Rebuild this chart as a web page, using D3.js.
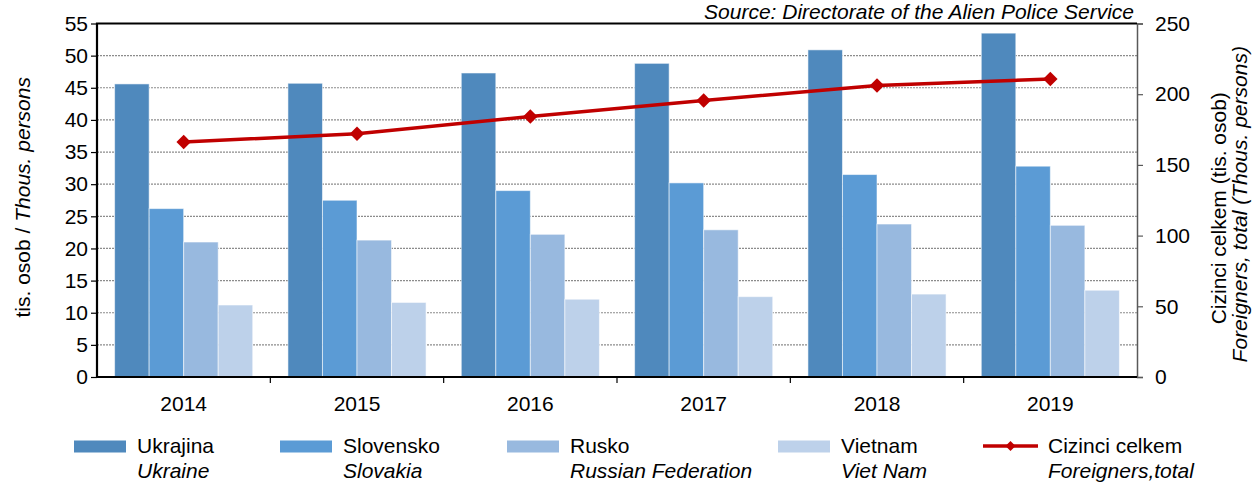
<!DOCTYPE html>
<html>
<head>
<meta charset="utf-8">
<script src="https://cdn.jsdelivr.net/npm/d3@7"></script>
<style>
  body { margin: 0; background: #fff; }
  svg { display: block; font-family: "Liberation Sans", Arial, sans-serif; }
  .tick text { font-size: 21px; fill: #000; }
</style>
</head>
<body>
<div id="chart"></div>
<script>
// Foreigners in Czechia by citizenship, 2014-2019 (thous. persons)
const years = ["2014", "2015", "2016", "2017", "2018", "2019"];
const seriesCz = ["Ukrajina", "Slovensko", "Rusko", "Vietnam"];
const seriesEn = ["Ukraine", "Slovakia", "Russian Federation", "Viet Nam"];
const ukrajina = [45.6, 45.7, 47.3, 48.8, 50.9, 53.5];
const slovensko = [26.2, 27.5, 29.0, 30.2, 31.5, 32.8];
const rusko = [21.0, 21.3, 22.2, 22.9, 23.8, 23.6];
const vietnam = [11.2, 11.6, 12.1, 12.5, 12.9, 13.5];
const totalForeigners = [166.2, 172.0, 184.3, 195.5, 206.1, 210.8];
const leftTicks = [0, 5, 10, 15, 20, 25, 30, 35, 40, 45, 50, 55];
const rightTicks = [0, 50, 100, 150, 200, 250];

const barValues = [ukrajina, slovensko, rusko, vietnam];
const colors = ["#4f89bd", "#5b9bd5", "#98b9df", "#bdd1ea"];
const lineColor = "#c00000";

const W = 1252, H = 482;
const plot = { left: 97, right: 1137, top: 23.5, bottom: 377 };
const fs = 21;

const svg = d3.select("#chart").append("svg")
  .attr("width", W)
  .attr("height", H);

// Scales
const x0 = d3.scaleBand().domain(years).range([plot.left, plot.right]).padding(0);
const x1 = d3.scaleBand().domain(seriesCz).range([0, x0.bandwidth()])
  .paddingInner(0).paddingOuter(0.51);
const y = d3.scaleLinear().domain([0, 55]).range([plot.bottom, plot.top]);
const y2 = d3.scaleLinear().domain([0, 250]).range([plot.bottom, plot.top]);

// Gridlines
svg.append("g")
  .selectAll("line")
  .data(leftTicks.filter(d => d > 0 && d < 55))
  .join("line")
  .attr("x1", plot.left)
  .attr("x2", plot.right)
  .attr("y1", d => y(d))
  .attr("y2", d => y(d))
  .attr("stroke", "#8c8c8c")
  .attr("stroke-width", 1.2)
  .attr("stroke-dasharray", "2,1");

// Bars
const rows = [];
years.forEach((yr, i) => {
  seriesCz.forEach((s, j) => {
    rows.push({ year: yr, series: s, value: barValues[j][i], color: colors[j] });
  });
});

svg.append("g")
  .selectAll("rect")
  .data(rows)
  .join("rect")
  .attr("x", d => x0(d.year) + x1(d.series))
  .attr("width", x1.bandwidth())
  .attr("y", d => y(d.value))
  .attr("height", d => y(0) - y(d.value))
  .attr("fill", d => d.color)
  .attr("stroke", "rgba(255,255,255,0.55)")
  .attr("stroke-width", 1);

// Line for total foreigners (right axis)
const lineData = years.map((yr, i) => ({ year: yr, value: totalForeigners[i] }));
const cx = d => x0(d.year) + x0.bandwidth() / 2;

svg.append("path")
  .datum(lineData)
  .attr("fill", "none")
  .attr("stroke", lineColor)
  .attr("stroke-width", 3.5)
  .attr("d", d3.line().x(cx).y(d => y2(d.value)));

svg.append("g")
  .selectAll("path")
  .data(lineData)
  .join("path")
  .attr("transform", d => `translate(${cx(d)},${y2(d.value)}) rotate(45)`)
  .attr("d", d3.symbol().type(d3.symbolSquare).size(105))
  .attr("fill", lineColor);

// Axes
const yAxis = svg.append("g")
  .attr("transform", `translate(${plot.left},0)`)
  .call(d3.axisLeft(y).tickValues(leftTicks).tickSize(6).tickPadding(3));
yAxis.select(".domain").remove();
yAxis.selectAll(".tick line").attr("stroke", "#000").attr("stroke-width", 1.2);

const y2Axis = svg.append("g")
  .attr("transform", `translate(${plot.right},0)`)
  .call(d3.axisRight(y2).tickValues(rightTicks).tickSize(6).tickPadding(12));
y2Axis.select(".domain").attr("stroke", "#595959").attr("stroke-width", 1.5);
y2Axis.selectAll(".tick line").attr("stroke", "#595959").attr("stroke-width", 1.2);
y2Axis.selectAll(".tick text").attr("text-anchor", "start");

const xAxis = svg.append("g")
  .attr("transform", `translate(0,${plot.bottom})`)
  .call(d3.axisBottom(x0).tickSize(0).tickPadding(19));
xAxis.select(".domain").remove();

// Category boundary ticks on x axis
svg.append("g")
  .selectAll("line")
  .data(years.slice(1))
  .join("line")
  .attr("x1", d => x0(d))
  .attr("x2", d => x0(d))
  .attr("y1", plot.bottom)
  .attr("y2", plot.bottom + 6)
  .attr("stroke", "#000")
  .attr("stroke-width", 1.2);

// Plot frame: top, left, bottom
svg.append("path")
  .attr("d", `M${plot.right},${plot.top}H${plot.left}V${plot.bottom}H${plot.right}`)
  .attr("fill", "none")
  .attr("stroke", "#000")
  .attr("stroke-width", 2.2);

// Axis titles
const leftTitle = svg.append("text")
  .attr("transform", `translate(30,${(plot.top + plot.bottom) / 2 - 3}) rotate(-90)`)
  .attr("text-anchor", "middle")
  .attr("font-size", fs);
leftTitle.append("tspan").text("tis. osob / ");
leftTitle.append("tspan").attr("font-style", "italic").text("Thous. persons");

svg.append("text")
  .attr("transform", `translate(1226,${(plot.top + plot.bottom) / 2 + 8}) rotate(-90)`)
  .attr("text-anchor", "middle")
  .attr("font-size", fs)
  .text("Cizinci celkem (tis. osob)");

svg.append("text")
  .attr("transform", `translate(1247,${(plot.top + plot.bottom) / 2 + 4}) rotate(-90)`)
  .attr("text-anchor", "middle")
  .attr("font-size", fs)
  .attr("font-style", "italic")
  .text("Foreigners, total (Thous. persons)");

// Source
svg.append("text")
  .attr("x", 1134)
  .attr("y", 19)
  .attr("text-anchor", "end")
  .attr("font-size", 21)
  .attr("font-style", "italic")
  .text("Source: Directorate of the Alien Police Service");

// Legend
const legendX = [74, 280, 507, 778, 983];
const legend = svg.append("g");

seriesCz.forEach((s, i) => {
  const g = legend.append("g").attr("transform", `translate(${legendX[i]},0)`);
  g.append("rect")
    .attr("x", 0)
    .attr("y", 440.5)
    .attr("width", 52)
    .attr("height", 12)
    .attr("fill", colors[i]);
  g.append("text").attr("x", 63).attr("y", 453).attr("font-size", fs).text(s);
  g.append("text").attr("x", 63).attr("y", 478).attr("font-size", fs)
    .attr("font-style", "italic").text(seriesEn[i]);
});

const lg = legend.append("g").attr("transform", `translate(${legendX[4]},0)`);
lg.append("line")
  .attr("x1", 0).attr("x2", 55)
  .attr("y1", 446).attr("y2", 446)
  .attr("stroke", lineColor)
  .attr("stroke-width", 3.5);
lg.append("path")
  .attr("transform", "translate(27.5,446) rotate(45)")
  .attr("d", d3.symbol().type(d3.symbolSquare).size(50))
  .attr("fill", lineColor);
lg.append("text").attr("x", 65).attr("y", 453).attr("font-size", fs).text("Cizinci celkem");
lg.append("text").attr("x", 65).attr("y", 478).attr("font-size", fs)
  .attr("font-style", "italic").text("Foreigners,total");
</script>
</body>
</html>
